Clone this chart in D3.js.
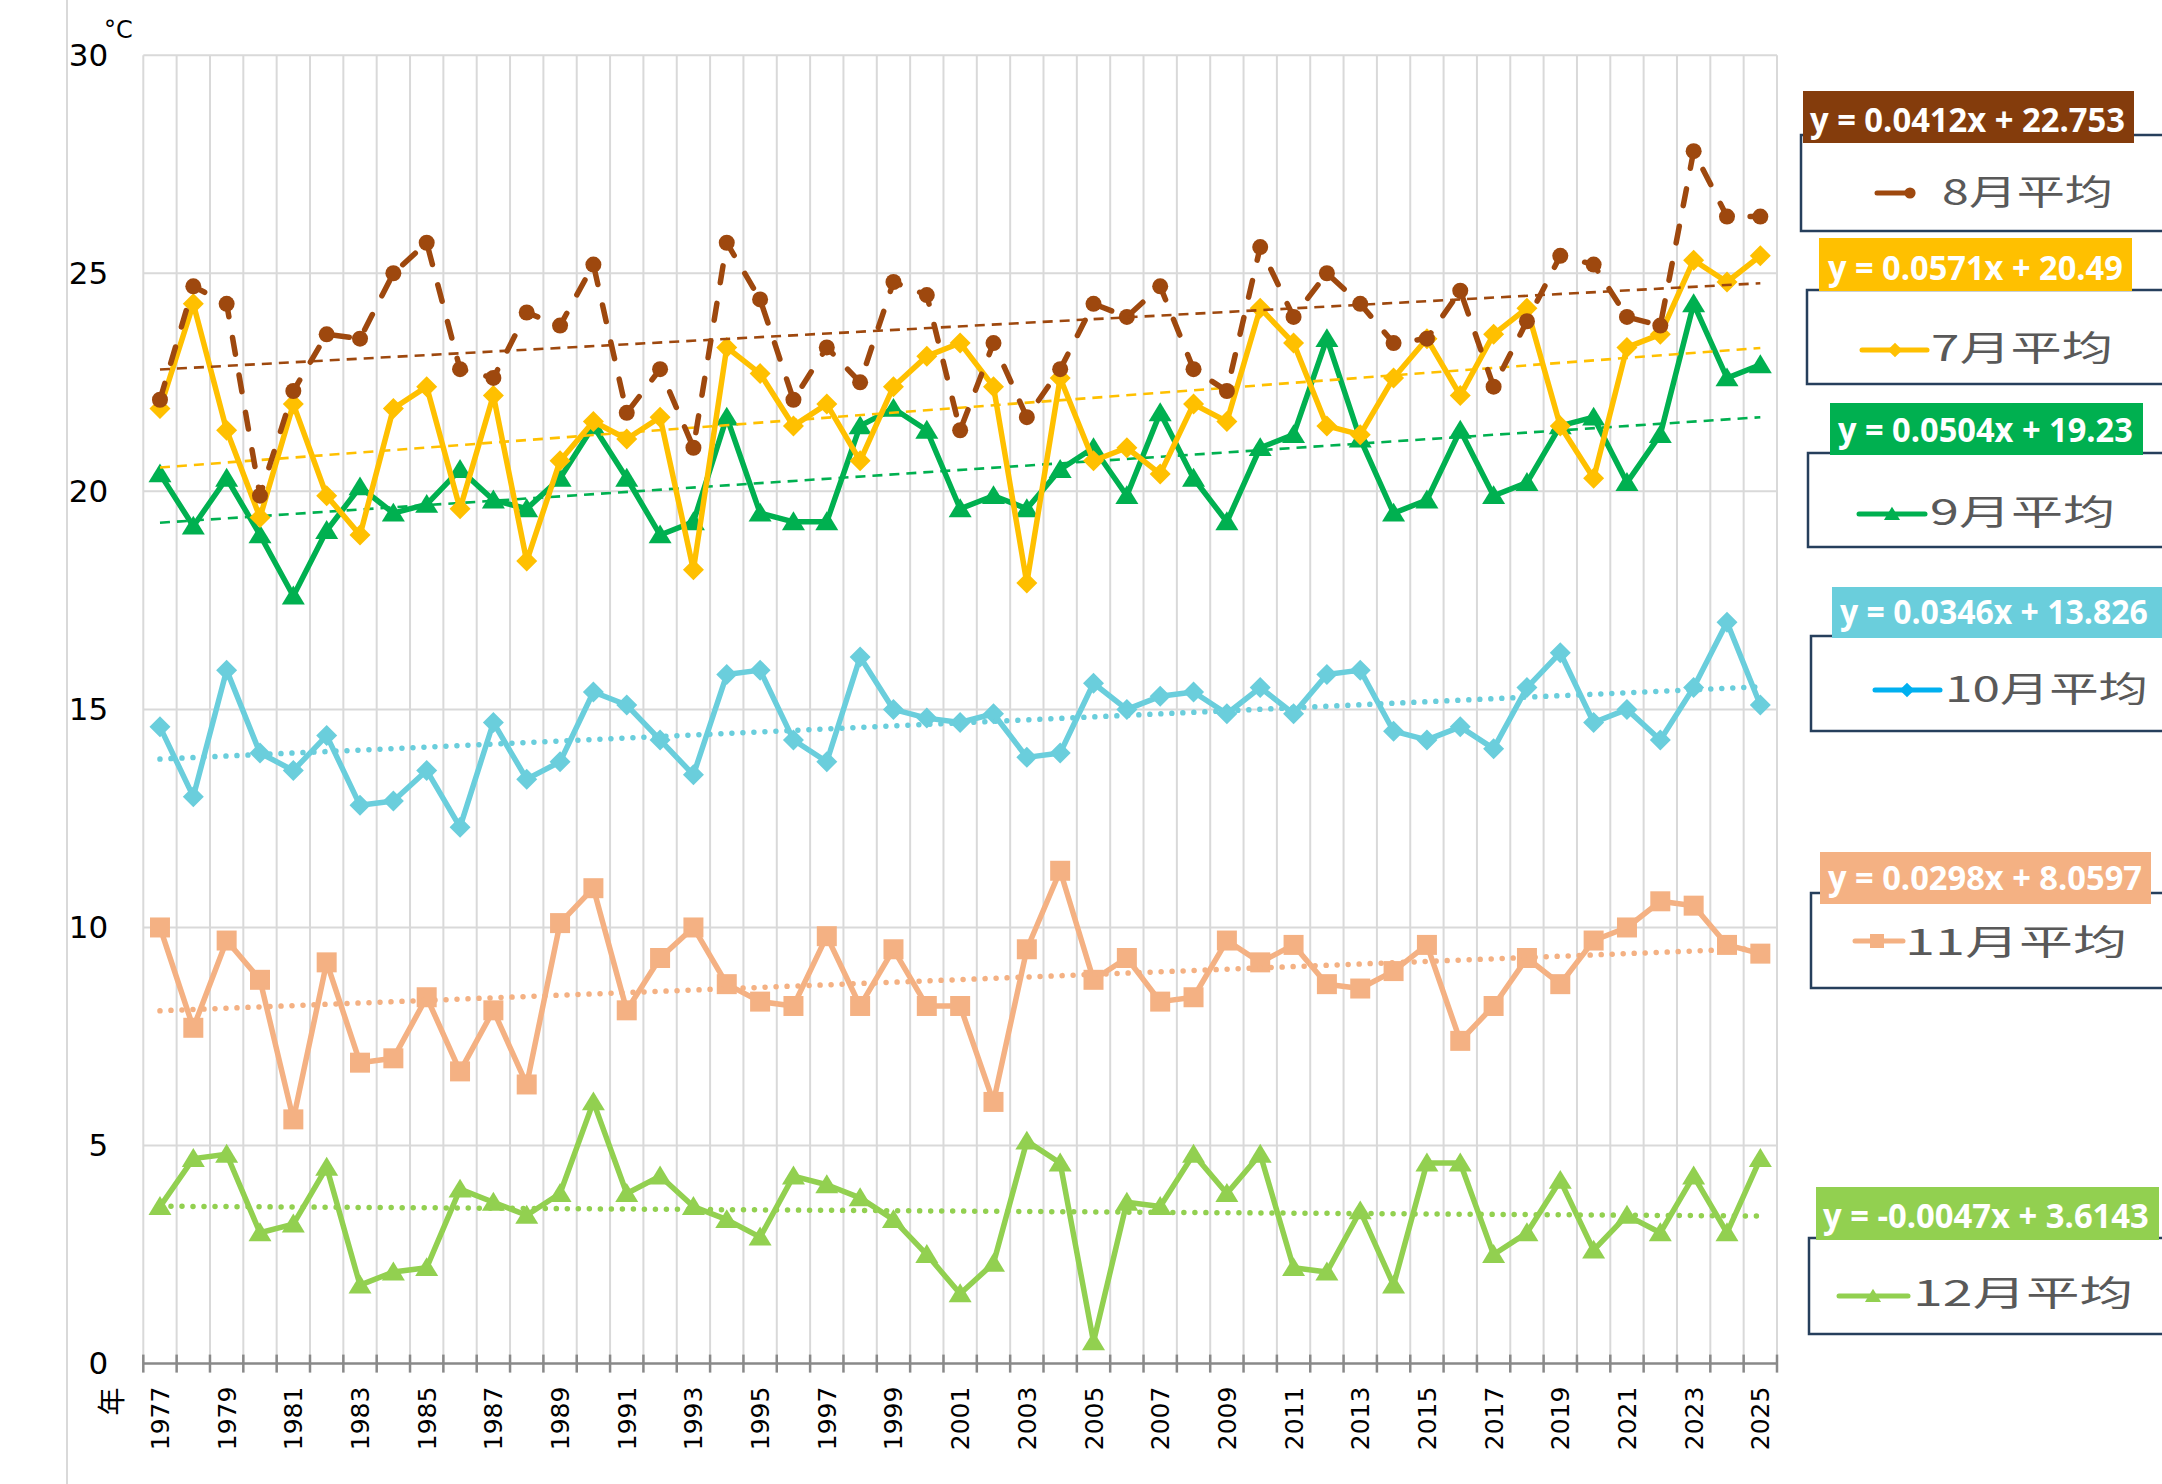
<!DOCTYPE html>
<html>
<head>
<meta charset="utf-8">
<script src="https://cdn.jsdelivr.net/npm/d3@7"></script>
<style>
  body { margin: 0; background: #fff; }
  svg { display: block; }
</style>
</head>
<body>
<div id="chart"></div>
<script>
// monthly mean temperatures, 1977-2025
const years = d3.range(1977, 2026)
const aug = [22.1, 24.7, 24.3, 19.9, 22.3, 23.6, 23.5, 25.0, 25.7, 22.8,
  22.6, 24.1, 23.8, 25.2, 21.8, 22.8, 21.0, 25.7, 24.4, 22.1,
  23.3, 22.5, 24.8, 24.5, 21.4, 23.4, 21.7, 22.8, 24.3, 24.0,
  24.7, 22.8, 22.3, 25.6, 24.0, 25.0, 24.3, 23.4, 23.5, 24.6,
  22.4, 23.9, 25.4, 25.2, 24.0, 23.8, 27.8, 26.3, 26.3]
const jul = [21.9, 24.3, 21.4, 19.4, 22.0, 19.9, 19.0, 21.9, 22.4, 19.6,
  22.2, 18.4, 20.7, 21.6, 21.2, 21.7, 18.2, 23.3, 22.7, 21.5,
  22.0, 20.7, 22.4, 23.1, 23.4, 22.4, 17.9, 22.6, 20.7, 21.0,
  20.4, 22.0, 21.6, 24.2, 23.4, 21.5, 21.3, 22.6, 23.5, 22.2,
  23.6, 24.2, 21.5, 20.3, 23.3, 23.6, 25.3, 24.8, 25.4]
const sep = [20.4, 19.2, 20.3, 19.0, 17.6, 19.1, 20.1, 19.5, 19.7, 20.5,
  19.8, 19.6, 20.3, 21.5, 20.3, 19.0, 19.3, 21.7, 19.5, 19.3,
  19.3, 21.5, 21.9, 21.4, 19.6, 19.9, 19.6, 20.5, 21.0, 19.9,
  21.8, 20.3, 19.3, 21.0, 21.3, 23.5, 21.2, 19.5, 19.8, 21.4,
  19.9, 20.2, 21.5, 21.7, 20.2, 21.3, 24.3, 22.6, 22.9]
const oct = [14.6, 13.0, 15.9, 14.0, 13.6, 14.4, 12.8, 12.9, 13.6, 12.3,
  14.7, 13.4, 13.8, 15.4, 15.1, 14.3, 13.5, 15.8, 15.9, 14.3,
  13.8, 16.2, 15.0, 14.8, 14.7, 14.9, 13.9, 14.0, 15.6, 15.0,
  15.3, 15.4, 14.9, 15.5, 14.9, 15.8, 15.9, 14.5, 14.3, 14.6,
  14.1, 15.5, 16.3, 14.7, 15.0, 14.3, 15.5, 17.0, 15.1]
const nov = [10.0, 7.7, 9.7, 8.8, 5.6, 9.2, 6.9, 7.0, 8.4, 6.7,
  8.1, 6.4, 10.1, 10.9, 8.1, 9.3, 10.0, 8.7, 8.3, 8.2,
  9.8, 8.2, 9.5, 8.2, 8.2, 6.0, 9.5, 11.3, 8.8, 9.3,
  8.3, 8.4, 9.7, 9.2, 9.6, 8.7, 8.6, 9.0, 9.6, 7.4,
  8.2, 9.3, 8.7, 9.7, 10.0, 10.6, 10.5, 9.6, 9.4]
const dec = [3.6, 4.7, 4.8, 3.0, 3.2, 4.5, 1.8, 2.1, 2.2, 4.0,
  3.7, 3.4, 3.9, 6.0, 3.9, 4.3, 3.6, 3.3, 2.9, 4.3,
  4.1, 3.8, 3.3, 2.5, 1.6, 2.3, 5.1, 4.6, 0.5, 3.7,
  3.6, 4.8, 3.9, 4.8, 2.2, 2.1, 3.5, 1.8, 4.6, 4.6,
  2.5, 3.0, 4.2, 2.6, 3.4, 3.0, 4.3, 3.0, 4.7]

// legend order: 8,7,9,10,11,12
const seriesNames = ['8月平均', '7月平均', '9月平均', '10月平均', '11月平均', '12月平均']
const trendSlope = [0.0412, 0.0571, 0.0504, 0.0346, 0.0298, -0.0047]
const trendIntercept = [22.753, 20.49, 19.23, 13.826, 8.0597, 3.6143]
const yTicks = [0, 5, 10, 15, 20, 25, 30]

const W = 2162, H = 1484
const plot = {left: 143.3, right: 1777, top: 55.2, bottom: 1363.6}

const series = [
  {values: aug, color: '#9E480E', labelBg: '#843C0C', mark: 'circle', dash: '17,21', trendDash: '10,7', legendColor: '#9E480E'},
  {values: jul, color: '#FFC000', labelBg: '#FFC000', mark: 'diamond', dash: null, trendDash: '10,7', legendColor: '#FFC000'},
  {values: sep, color: '#00B050', labelBg: '#00B050', mark: 'triangle', dash: null, trendDash: '10,7', legendColor: '#00B050'},
  {values: oct, color: '#6ACEDC', labelBg: '#6ACEDC', mark: 'diamond', dash: null, trendDash: 'dot', legendColor: '#00B0F0'},
  {values: nov, color: '#F4B183', labelBg: '#F4B183', mark: 'square', dash: null, trendDash: 'dot', legendColor: '#F4B183'},
  {values: dec, color: '#92D050', labelBg: '#92D050', mark: 'triangle', dash: null, trendDash: 'dot', legendColor: '#92D050'}
]

// right-hand legend geometry (label strip, box, text, marker)
const legendLayout = [
  {lab: [1803, 91, 2134, 143], labText: [1810, 2125, 132], box: [1801, 135, 2175, 231], txt: [1942, 2113, 205], mk: [1877, 1905, 1910, 193]},
  {lab: [1819, 238, 2132, 291], labText: [1828, 2123, 280], box: [1807, 290, 2175, 384], txt: [1931, 2113, 361], mk: [1862, 1927, 1895, 350]},
  {lab: [1830, 403, 2143, 455], labText: [1838, 2133, 442], box: [1808, 453, 2175, 547], txt: [1930, 2115, 525], mk: [1859, 1925, 1892, 514]},
  {lab: [1832, 587, 2162, 638], labText: [1840, 2148, 624], box: [1811, 636, 2175, 731], txt: [1945, 2148, 702], mk: [1875, 1940, 1907, 690]},
  {lab: [1820, 852, 2151, 904], labText: [1828, 2142, 890], box: [1811, 893, 2175, 988], txt: [1905, 2127, 955], mk: [1855, 1903, 1877, 941]},
  {lab: [1816, 1187, 2159, 1240], labText: [1823, 2149, 1228], box: [1809, 1238, 2175, 1334], txt: [1913, 2133, 1306], mk: [1839, 1908, 1873, 1296]}
]

const svg = d3.select('#chart').append('svg')
  .attr('width', W)
  .attr('height', H)
  .style('background', '#fff')

const x = d3.scaleBand().domain(years).range([plot.left, plot.right]).padding(0)
const cx = d => x(d) + x.bandwidth() / 2
const y = d3.scaleLinear().domain([0, 30]).range([plot.bottom, plot.top])

// marker shapes
function markPath(type, px, py, s) {
  if (type === 'circle') {
    const r = 8 * s
    return `M${px - r},${py}a${r},${r} 0 1,0 ${2 * r},0a${r},${r} 0 1,0 ${-2 * r},0Z`
  }
  if (type === 'diamond') {
    const h = 10.5 * s
    return `M${px},${py - h}L${px + h},${py}L${px},${py + h}L${px - h},${py}Z`
  }
  if (type === 'square') {
    const h = 10 * s
    return `M${px - h},${py - h}H${px + h}V${py + h}H${px - h}Z`
  }
  // triangle
  const w = 11.5 * s, h = 10.5 * s
  return `M${px},${py - h}L${px + w},${py + h * 0.8}L${px - w},${py + h * 0.8}Z`
}

// fit a text horizontally between x0 and x1 by scaling it
function fitText(sel, x0, x1, base) {
  const nat = sel.node().getComputedTextLength()
  sel.attr('transform', `translate(${x0},${base}) scale(${(x1 - x0) / nat},1)`)
}

// outer left border line
svg.append('line')
  .attr('x1', 67).attr('x2', 67).attr('y1', 0).attr('y2', H)
  .attr('stroke', '#D9D9D9').attr('stroke-width', 2)

// gridlines
const grid = svg.append('g')
grid.selectAll('.hg').data(yTicks.filter(t => t > 0)).join('line')
  .attr('x1', plot.left).attr('x2', plot.right)
  .attr('y1', d => y(d)).attr('y2', d => y(d))
  .attr('stroke', '#D9D9D9').attr('stroke-width', 2)
const bounds = years.map(d => x(d)).concat([plot.right])
grid.selectAll('.vg').data(bounds).join('line')
  .attr('x1', d => d).attr('x2', d => d)
  .attr('y1', plot.top).attr('y2', plot.bottom)
  .attr('stroke', '#D9D9D9').attr('stroke-width', 2)

// x axis
const xax = svg.append('g')
xax.append('line')
  .attr('x1', plot.left).attr('x2', plot.right)
  .attr('y1', plot.bottom).attr('y2', plot.bottom)
  .attr('stroke', '#898989').attr('stroke-width', 2.5)
xax.selectAll('.tk').data(bounds).join('line')
  .attr('x1', d => d).attr('x2', d => d)
  .attr('y1', plot.bottom - 9).attr('y2', plot.bottom + 9)
  .attr('stroke', '#898989').attr('stroke-width', 2.5)
xax.selectAll('.lb').data(years.filter(d => d % 2 === 1)).join('text')
  .attr('transform', d => `translate(${cx(d)},${plot.bottom + 23}) rotate(-90)`)
  .attr('text-anchor', 'end')
  .attr('dy', '0.36em')
  .attr('font-family', 'DejaVu Sans, sans-serif')
  .attr('font-size', 25)
  .attr('fill', '#000')
  .text(d => d)
svg.append('text')
  .attr('transform', `translate(112,${plot.bottom + 38}) rotate(-90)`)
  .attr('text-anchor', 'middle')
  .attr('dy', '0.36em')
  .attr('font-family', 'Noto Sans CJK SC, sans-serif')
  .attr('font-size', 28)
  .text('年')

// y axis labels
const yax = svg.append('g')
  .attr('transform', `translate(${plot.left},0)`)
  .call(d3.axisLeft(y).tickValues(yTicks).tickSize(0).tickPadding(35))
yax.select('.domain').remove()
yax.selectAll('text')
  .attr('font-family', 'DejaVu Sans, sans-serif')
  .attr('font-size', 31)
  .attr('fill', '#000')
svg.append('text')
  .attr('x', 104).attr('y', 38)
  .attr('font-family', 'DejaVu Sans, sans-serif')
  .attr('font-size', 24)
  .text('°C')

// series, drawn bottom-up so August sits on top
const line = d3.line().x((d, i) => cx(years[i])).y(d => y(d))
const drawOrder = [5, 4, 3, 2, 1, 0]
drawOrder.forEach(k => {
  const s = series[k]
  const g = svg.append('g')
  g.append('path')
    .attr('d', line(s.values))
    .attr('fill', 'none')
    .attr('stroke', s.color)
    .attr('stroke-width', 5.5)
    .attr('stroke-linejoin', 'round')
    .attr('stroke-linecap', s.dash ? 'round' : 'butt')
    .attr('stroke-dasharray', s.dash)
  g.selectAll('.m').data(s.values).join('path')
    .attr('d', (d, i) => markPath(s.mark, cx(years[i]), y(d), 1))
    .attr('fill', s.color)

  // linear trend, x = 1..49
  const t0 = 1, t1 = years.length
  const tl = g.append('line')
    .attr('x1', cx(years[0])).attr('x2', cx(years[years.length - 1]))
    .attr('y1', y(trendSlope[k] * t0 + trendIntercept[k]))
    .attr('y2', y(trendSlope[k] * t1 + trendIntercept[k]))
    .attr('stroke', s.color)
  if (s.trendDash === 'dot') {
    tl.attr('stroke-width', 5.5).attr('stroke-linecap', 'round').attr('stroke-dasharray', '0.01,11')
  } else {
    tl.attr('stroke-width', 2.6).attr('stroke-dasharray', s.trendDash)
  }
})

// legends with trend equations
series.forEach((s, k) => {
  const L = legendLayout[k]
  const g = svg.append('g')
  g.append('rect')
    .attr('x', L.box[0]).attr('y', L.box[1])
    .attr('width', L.box[2] - L.box[0]).attr('height', L.box[3] - L.box[1])
    .attr('fill', '#fff').attr('stroke', '#263F5C').attr('stroke-width', 2.5)
  g.append('rect')
    .attr('x', L.lab[0]).attr('y', L.lab[1])
    .attr('width', L.lab[2] - L.lab[0]).attr('height', L.lab[3] - L.lab[1])
    .attr('fill', s.labelBg)
  const eq = g.append('text')
    .attr('font-family', 'Open Sans, sans-serif')
    .attr('font-weight', 'bold')
    .attr('font-size', 34)
    .attr('fill', '#fff')
    .text(`y = ${trendSlope[k]}x + ${trendIntercept[k]}`)
  fitText(eq, L.labText[0], L.labText[1], L.labText[2])
  g.append('line')
    .attr('x1', L.mk[0]).attr('x2', L.mk[1])
    .attr('y1', L.mk[3]).attr('y2', L.mk[3])
    .attr('stroke', s.legendColor).attr('stroke-width', 5).attr('stroke-linecap', 'round')
  g.append('path')
    .attr('d', markPath(s.mark, L.mk[2], L.mk[3], 0.7))
    .attr('fill', s.legendColor)
  const nm = g.append('text')
    .attr('font-family', 'Noto Sans CJK SC, sans-serif')
    .attr('font-size', 35)
    .attr('fill', '#595959')
    .text(seriesNames[k])
  fitText(nm, L.txt[0], L.txt[1], L.txt[2])
})
</script>
</body>
</html>
